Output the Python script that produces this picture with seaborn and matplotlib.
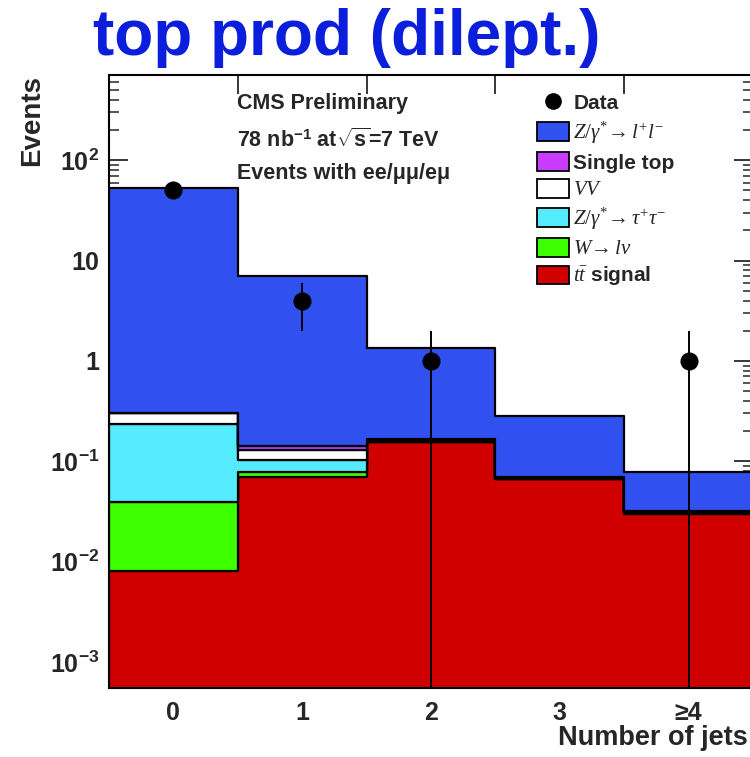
import numpy as np
import pandas as pd
import matplotlib
matplotlib.use("Agg")
import matplotlib.pyplot as plt
import seaborn as sns
from matplotlib.patches import Patch
from matplotlib.lines import Line2D
from matplotlib.ticker import FixedLocator, FixedFormatter, LogLocator, NullFormatter

# ---------------- data ----------------
jet_bins = [0, 1, 2, 3, 4]
jet_labels = ["0", "1", "2", "3", "≥4"]
bin_edges = [0.5, 1.5, 2.5, 3.5]

# stacked MC contributions (events per bin), bottom -> top: ttbar, W, Ztautau, VV, single top, Z->ll
ttbar = [0.0081, 0.069, 0.155, 0.066, 0.030]
w_lnu = [0.031, 0.009, 0.002, 0.001, 0.0005]
z_tautau = [0.195, 0.024, 0.002, 0.001, 0.0005]
diboson = [0.066, 0.027, 0.003, 0.001, 0.0005]
single_top = [0.0, 0.012, 0.003, 0.001, 0.0005]
z_ll = [52.2, 6.96, 1.19, 0.21, 0.046]

data_counts = [50, 4, 1, 0, 1]

process_names = ["Zll", "SingleTop", "VV", "Ztautau", "Wlnu", "ttbar"]  # top -> bottom
process_values = [z_ll, single_top, diboson, z_tautau, w_lnu, ttbar]
process_colors = ["#3150F0", "#C83CFF", "#FFFFFF", "#55EBFF", "#3CFF00", "#D00000"]
legend_labels = [
    r"$Z/\gamma^{*}\!\rightarrow l^{+}l^{-}$",
    "Single top",
    r"$VV$",
    r"$Z/\gamma^{*}\!\rightarrow \tau^{+}\tau^{-}$",
    r"$W\!\rightarrow l\nu$",
    r"$t\bar{t}$ signal",
]
y_tick_values = [1e-3, 1e-2, 1e-1, 1, 10, 100]
y_tick_labels = [r"$\mathbf{10^{-3}}$", r"$\mathbf{10^{-2}}$", r"$\mathbf{10^{-1}}$",
                 "1", "10", r"$\mathbf{10^{2}}$"]

# ---------------- style ----------------
sns.set_style("white")
plt.rcParams["font.family"] = ["Liberation Sans", "DejaVu Sans"]
plt.rcParams["mathtext.fontset"] = "custom"
plt.rcParams["mathtext.rm"] = "Liberation Serif"
plt.rcParams["mathtext.it"] = "Liberation Serif:italic"
plt.rcParams["mathtext.bf"] = "Liberation Sans:bold"

W, H = 750, 757
fig = plt.figure(figsize=(W / 100, H / 100), dpi=100)
ax_l, ax_r, ax_t, ax_b = 109, 753, 75, 688
ax = fig.add_axes([ax_l / W, 1 - ax_b / H, (ax_r - ax_l) / W, (ax_b - ax_t) / H])

rows = []
for name, vals in zip(process_names, process_values):
    for j, v in zip(jet_bins, vals):
        rows.append({"jets": j, "events": v, "process": name})
df = pd.DataFrame(rows)

sns.histplot(
    data=df, x="jets", weights="events", hue="process", hue_order=process_names,
    multiple="stack", element="step", discrete=True, fill=True,
    palette=dict(zip(process_names, process_colors)),
    edgecolor="black", linewidth=1.6, alpha=1, legend=False, ax=ax,
)

ax.set_yscale("log", nonpositive="clip")

# data points
data_df = pd.DataFrame({"jets": jet_bins, "events": data_counts})
data_df = data_df[data_df["events"] > 0]
err = np.sqrt(data_df["events"].values)
ax.errorbar(data_df["jets"], data_df["events"], yerr=[np.minimum(err, data_df["events"].values), err],
            fmt="none", ecolor="black", elinewidth=1.4, capsize=0, zorder=5)
sns.scatterplot(data=data_df, x="jets", y="events", color="black", s=170,
                edgecolor="black", linewidth=0, zorder=6, ax=ax, legend=False)

ax.set_xlim(-0.5, 4.5)
ax.set_ylim(5.5e-4, 708)

# x ticks: marks at bin edges, labels at bin centres
ax.xaxis.set_major_locator(FixedLocator(bin_edges))
ax.xaxis.set_major_formatter(NullFormatter())
ax.xaxis.set_minor_locator(FixedLocator(jet_bins))
ax.xaxis.set_minor_formatter(FixedFormatter(jet_labels))
ax.tick_params(axis="x", which="major", direction="in", length=14, width=1.3, top=True, bottom=True)
ax.tick_params(axis="x", which="minor", length=0, pad=9, labelsize=18)

ax.yaxis.set_major_locator(FixedLocator(y_tick_values))
ax.yaxis.set_major_formatter(FixedFormatter(y_tick_labels))
ax.yaxis.set_minor_locator(LogLocator(base=10, subs=np.arange(2, 10), numticks=20))
ax.yaxis.set_minor_formatter(NullFormatter())
ax.tick_params(axis="y", which="major", direction="in", length=14, width=1.3, left=True, right=True,
               labelsize=18, pad=7)
ax.tick_params(axis="y", which="minor", direction="in", length=7, width=1.1, left=True, right=True)
for lab in ax.get_xticklabels(minor=True) + ax.get_yticklabels():
    lab.set_fontweight("bold")

for sp in ax.spines.values():
    sp.set_linewidth(1.5)
    sp.set_color("black")

ax.set_xlabel("Number of jets", loc="right", fontsize=19.5, fontweight="bold")
ax.xaxis.set_label_coords((748 - ax_l) / (ax_r - ax_l), -(725 - ax_b) / (ax_b - ax_t))
ax.xaxis.label.set_verticalalignment("top")
ax.set_ylabel("Events", loc="top", fontsize=20, fontweight="bold")
ax.yaxis.set_label_coords((45 - ax_l) / (ax_r - ax_l), 1.0)

# annotations
def fy(y):
    return 1 - y / H

fig.text(237 / W, fy(104), "CMS Preliminary", fontsize=15.5, fontweight="bold", va="center", ha="left")
fig.text(237 / W, fy(140), r"78 nb$^{\mathbf{-1}}$ at$\sqrt{\mathbf{s}}$=7 TeV", fontsize=15.5,
         fontweight="bold", va="center", ha="left")
fig.text(237 / W, fy(173), "Events with ee/μμ/eμ", fontsize=15.5, fontweight="bold", va="center", ha="left")

# legend
handles = [Line2D([], [], marker="o", color="black", linestyle="none", markersize=11)]
handles += [Patch(facecolor=c, edgecolor="black", linewidth=1.3) for c in process_colors]
labels = ["Data"] + legend_labels
leg = ax.legend(handles, labels, loc="upper left",
                bbox_to_anchor=((537 - ax_l) / (ax_r - ax_l), (ax_b - 93) / (ax_b - ax_t)),
                frameon=False, fontsize=15, handlelength=1.55, handleheight=1.0,
                handletextpad=0.2, labelspacing=0.3, borderpad=0, borderaxespad=0)
for t in leg.get_texts():
    t.set_fontweight("bold")

# title
fig.text(93 / W, fy(55), "top prod (dilept.)", fontsize=46, fontweight="bold", color="#0A1EDC",
         ha="left", va="baseline")

fig.savefig("out.png", dpi=100, facecolor="white")
